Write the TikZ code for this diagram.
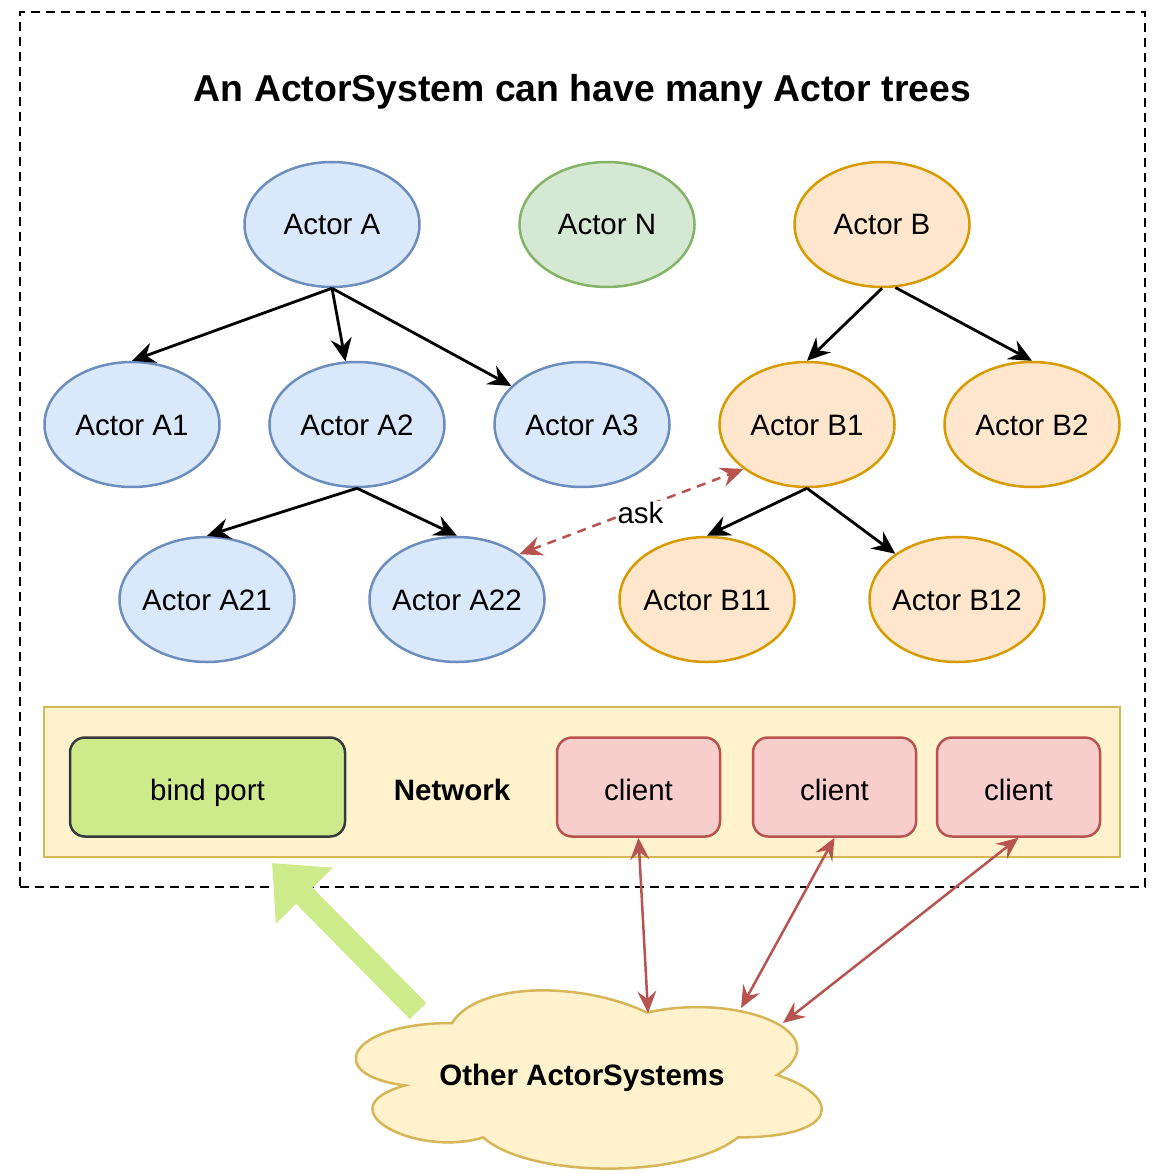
\documentclass[tikz,border=0pt]{standalone}
\usepackage{fontspec}
\setmainfont{Liberation Sans}
\usetikzlibrary{shapes.geometric,arrows.meta}
\definecolor{bluefill}{HTML}{DAE8FC}
\definecolor{bluestroke}{HTML}{6C8EBF}
\definecolor{greenfill}{HTML}{D5E8D4}
\definecolor{greenstroke}{HTML}{82B366}
\definecolor{orangefill}{HTML}{FFE6CC}
\definecolor{orangestroke}{HTML}{D79B00}
\definecolor{yellowfill}{HTML}{FFF2CC}
\definecolor{yellowstroke}{HTML}{D6B656}
\definecolor{limefill}{HTML}{CDEB8B}
\definecolor{darkstroke}{HTML}{36393D}
\definecolor{redfill}{HTML}{F8CECC}
\definecolor{redstroke}{HTML}{B85450}
\begin{document}
\begin{tikzpicture}[x=1pt,y=-1pt,
  txt/.style={font=\fontsize{29.5}{35}\selectfont},
  boldtxt/.style={font=\fontsize{29.5}{35}\selectfont\bfseries},
  ellipsetext/.style={text height=23pt, text depth=2pt},
  boxtext/.style={text height=29pt, text depth=1.6pt},
  actor/.style={ellipse, draw, line width=2.5pt, minimum width=175pt, minimum height=125pt, inner xsep=-25pt, inner ysep=0pt, txt, ellipsetext},
  ablue/.style={actor, fill=bluefill, draw=bluestroke},
  agreen/.style={actor, fill=greenfill, draw=greenstroke},
  aorange/.style={actor, fill=orangefill, draw=orangestroke},
  netbox/.style={rectangle, draw=yellowstroke, fill=yellowfill, line width=2.5pt, inner sep=0pt},
  bindbox/.style={rectangle, rounded corners=15pt, draw=darkstroke, fill=limefill, line width=2.5pt, minimum width=275pt, minimum height=99pt, inner sep=0pt, txt, boxtext},
  clientbox/.style={rectangle, rounded corners=15pt, draw=redstroke, fill=redfill, line width=2.5pt, minimum width=163pt, minimum height=99pt, inner sep=0pt, txt, boxtext},
  tree/.style={line width=2.8pt, -{Stealth[length=23pt,width=21pt,inset=8pt]}},
  askarrow/.style={draw=redstroke, line width=2.5pt, dash pattern=on 9pt off 7pt, {Stealth[length=23pt,width=20pt,inset=8pt,fill=redstroke]}-{Stealth[length=23pt,width=20pt,inset=8pt,fill=redstroke]}},
  netarrow/.style={draw=redstroke, line width=2.5pt, {Stealth[length=22pt,width=19pt,inset=8pt]}-{Stealth[length=22pt,width=19pt,inset=8pt]}},
  bigarrow/.style={draw=limefill, line width=23pt, -{Triangle[length=46pt,width=77pt]}}
]
\useasboundingbox (0,0) rectangle (1166,1174);

% system boundary
\node[draw, line width=2.5pt, dash pattern=on 9pt off 6pt, minimum width=1125pt, minimum height=875pt, inner sep=0pt] (sys) at (582.5,449.5) {};
\node[font=\fontsize{37.4}{44}\selectfont\bfseries, anchor=base] (title) at (582.5,101.7) {An ActorSystem can have many Actor trees};

% actors
\node[ablue] (A) at (332,224.5) {Actor A};
\node[agreen] (N) at (607,224.5) {Actor N};
\node[aorange] (B) at (882,224.5) {Actor B};
\node[ablue] (A1) at (132,424.5) {Actor A1};
\node[ablue] (A2) at (357,424.5) {Actor A2};
\node[ablue] (A3) at (582,424.5) {Actor A3};
\node[aorange] (B1) at (807,424.5) {Actor B1};
\node[aorange] (B2) at (1032,424.5) {Actor B2};
\node[ablue] (A21) at (207,599.5) {Actor A21};
\node[ablue] (A22) at (457,599.5) {Actor A22};
\node[aorange] (B11) at (707,599.5) {Actor B11};
\node[aorange] (B12) at (957,599.5) {Actor B12};

% tree edges
\draw[tree] (A.south) -- (A1.north);
\draw[tree] (A.south) -- (A2);
\draw[tree] (A.south) -- (A3);
\draw[tree] (B.south) -- (B1.north);
\draw[tree] (B.-78) -- (B2.north);
\draw[tree] (A2.south) -- (A21.north);
\draw[tree] (A2.south) -- (A22.north);
\draw[tree] (B1.south) -- (B11.north);
\draw[tree] (B1.south) -- (B12);

% ask
\draw[askarrow] (A22.36) -- (B1.215);
\node[txt, fill=white, inner sep=1pt, anchor=base] (ask) at (640.5,523) {ask};

% network
\node[netbox, minimum width=1076pt, minimum height=150pt] (net) at (582,782) {};
\node[bindbox] (bind) at (207.5,787) {bind port};
\node[boldtxt, boxtext, inner sep=0pt] (netlabel) at (452,787) {Network};
\node[clientbox] (c1) at (638.5,787) {client};
\node[clientbox] (c2) at (834.5,787) {client};
\node[clientbox] (c3) at (1018.5,787) {client};

% cloud
\draw[draw=yellowstroke, fill=yellowfill, line width=2.5pt]
  (452,1023) .. controls (348,1023) and (322,1075) .. (405.2,1085.4)
  .. controls (322,1108.3) and (415.6,1158.2) .. (483.2,1137.4)
  .. controls (530,1179) and (686,1179) .. (738,1137.4)
  .. controls (842,1137.4) and (842,1095.8) .. (777,1075)
  .. controls (842,1033.4) and (738,991.8) .. (647,1012.6)
  .. controls (582,981.4) and (478,981.4) .. (452,1023) -- cycle;
\node[boldtxt, ellipsetext, inner sep=0pt] (other) at (582,1075) {Other ActorSystems};

\coordinate (k1) at (648,1013);
\coordinate (k2) at (741,1008);
\coordinate (k3) at (783,1023);
\draw[netarrow] (c1.south) -- (k1);
\draw[netarrow] (c2.south) -- (k2);
\draw[netarrow] (c3.south) -- (k3);

% big green arrow
\coordinate (gstart) at (418,1011);
\coordinate (gtip) at (272,863);
\draw[bigarrow] (gstart) -- (gtip);
\end{tikzpicture}
\end{document}
